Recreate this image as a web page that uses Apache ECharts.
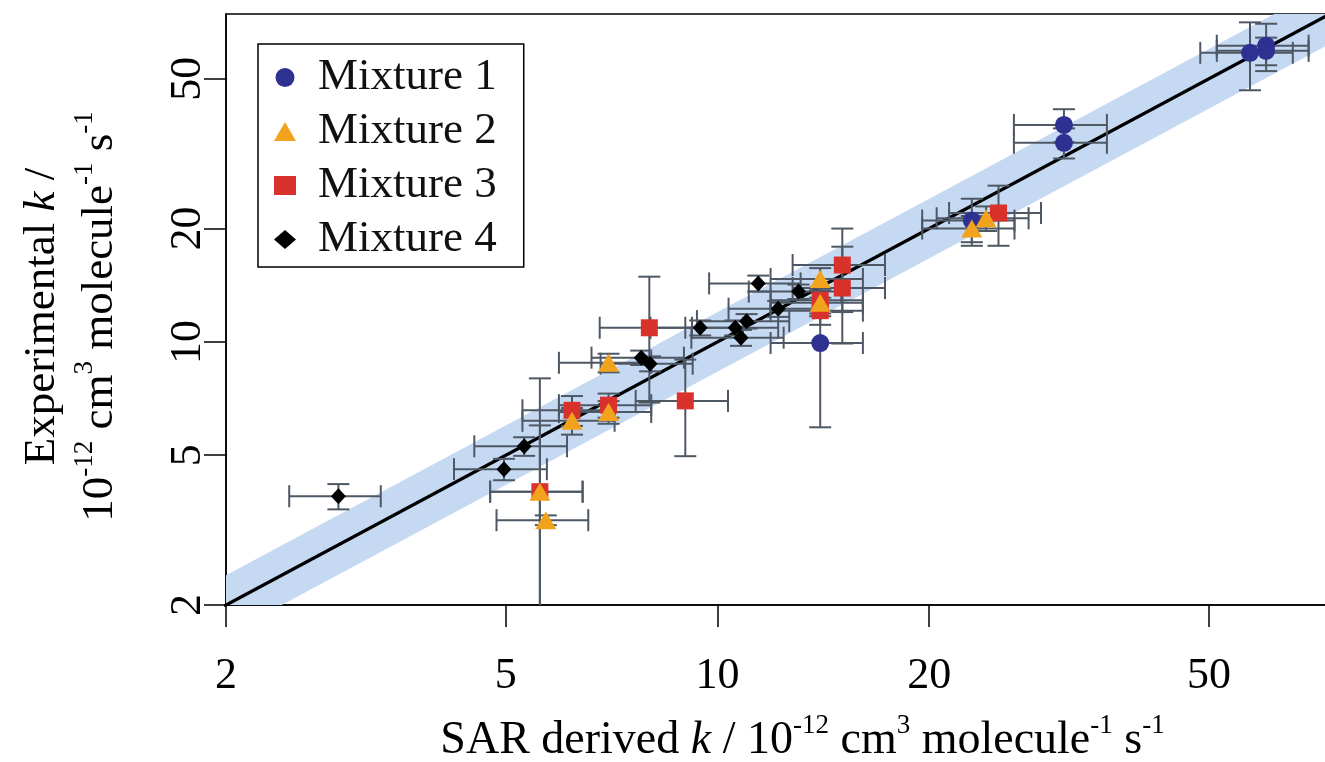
<!DOCTYPE html>
<html><head><meta charset="utf-8">
<script src="https://cdn.jsdelivr.net/npm/echarts@6/dist/echarts.min.js"></script>
<style>html,body{margin:0;padding:0;background:#fff}#c{width:1325px;height:762px}</style>
</head><body><div id="c"></div>
<script>
// ---------- data ----------
const tickValues = [2, 5, 10, 20, 50];
const xRange = [2, 73.6];
const yRange = [2, 74.3];
const seriesNames = ['Mixture 1', 'Mixture 2', 'Mixture 3', 'Mixture 4'];

// Mixture 1 (circles)
const m1X    = [57.2, 60.3, 60.3, 31.1, 31.1, 23.0, 14.0];
const m1Y    = [58.6, 61.2, 59.3, 37.7, 33.8, 21.0, 9.93];
const m1XErr = [8.6, 9.0, 9.0, 4.7, 4.7, 3.45, 2.1];
const m1YErr = [12.0, 8.8, 5.0, 3.8, 3.1, 3.0, 4.0];

// Mixture 2 (triangles)
const m2X    = [7.0, 6.21, 7.0, 5.59, 5.7, 14.0, 14.0, 23.0, 24.1];
const m2Y    = [8.8, 6.17, 6.51, 4.0, 3.36, 14.7, 12.7, 20.0, 21.3];
const m2XErr = [1.05, 0.93, 1.05, 0.84, 0.85, 2.1, 2.1, 3.45, 3.6];
const m2YErr = [0.5, 0.5, 0.45, 2.0, 0.1, 1.0, 1.0, 1.6, 1.6];

// Mixture 3 (squares)
const m3X    = [8.0, 9.0, 6.21, 7.0, 5.59, 15.05, 15.05, 14.0, 14.0, 25.1];
const m3Y    = [10.9, 6.97, 6.58, 6.79, 4.0, 16.0, 13.9, 12.9, 12.1, 22.0];
const m3XErr = [1.2, 1.35, 0.93, 1.05, 0.84, 2.26, 2.26, 2.1, 2.1, 3.75];
const m3YErr = [4.0, 2.0, 0.6, 0.5, 4.0, 4.0, 4.0, 1.0, 1.0, 4.0];

// Mixture 4 (diamonds)
const m4X    = [2.89, 4.97, 5.31, 7.79, 8.02, 9.45, 10.6, 11.0, 10.8, 11.43, 12.2, 13.04];
const m4Y    = [3.89, 4.59, 5.28, 9.08, 8.75, 10.9, 10.9, 11.35, 10.26, 14.3, 12.25, 13.6];
const m4XErr = [0.43, 0.75, 0.8, 1.17, 1.2, 1.42, 1.6, 1.65, 1.62, 1.7, 1.83, 1.96];
const m4YErr = [0.3, 0.3, 0.3, 0.4, 0.4, 0.5, 0.5, 0.5, 0.5, 0.7, 0.6, 0.6];

// 1:1 line and shaded band
const diagX = [1.5, 100];
const bandX = [1.5, 100];
const bandFactor = 1.2;

// ---------- styling ----------
const FONT = "'Liberation Serif','Times New Roman',serif";
const colors = ['#2e3192', '#f2a31d', '#d9312b', '#000000'];
const symbols = ['circle', 'triangle', 'rect', 'diamond'];
const symbolSizes = [18, [21, 18], 17, [15, 16]];
const errColor = '#4e5865';
const bandColor = '#c6d9f2';

const L = Math.log10;
const groups = [
  [m1X, m1Y, m1XErr, m1YErr],
  [m2X, m2Y, m2XErr, m2YErr],
  [m3X, m3Y, m3XErr, m3YErr],
  [m4X, m4Y, m4XErr, m4YErr]
];

function errRender(params, api) {
  const x = api.value(2), y = api.value(3), xe = api.value(4), ye = api.value(5);
  const cs = params.coordSys;
  const c = api.coord([L(x), L(y)]);
  const xl = api.coord([L(x - xe), L(y)])[0];
  const xh = api.coord([L(x + xe), L(y)])[0];
  const yh = api.coord([L(x), L(y + ye)])[1];
  const lowVal = y - ye;
  let yl, lowCap = true;
  if (lowVal <= yRange[0]) { yl = cs.y + cs.height; lowCap = false; }
  else { yl = api.coord([L(x), L(lowVal)])[1]; }
  const cap = 11;
  const st = () => ({ stroke: errColor, lineWidth: 2, fill: null });
  const ch = [
    { type: 'line', shape: { x1: xl, y1: c[1], x2: xh, y2: c[1] }, style: st() },
    { type: 'line', shape: { x1: xl, y1: c[1] - cap, x2: xl, y2: c[1] + cap }, style: st() },
    { type: 'line', shape: { x1: xh, y1: c[1] - cap, x2: xh, y2: c[1] + cap }, style: st() },
    { type: 'line', shape: { x1: c[0], y1: yh, x2: c[0], y2: yl }, style: st() },
    { type: 'line', shape: { x1: c[0] - cap, y1: yh, x2: c[0] + cap, y2: yh }, style: st() }
  ];
  if (lowCap) ch.push({ type: 'line', shape: { x1: c[0] - cap, y1: yl, x2: c[0] + cap, y2: yl }, style: st() });
  return { type: 'group', children: ch };
}

function bandRender(params, api) {
  const cs = params.coordSys;
  const pts = [
    api.coord([L(bandX[0]), L(bandX[0] * bandFactor)]),
    api.coord([L(bandX[1]), L(bandX[1] * bandFactor)]),
    api.coord([L(bandX[1]), L(bandX[1] / bandFactor)]),
    api.coord([L(bandX[0]), L(bandX[0] / bandFactor)])
  ];
  return {
    type: 'polygon', shape: { points: pts },
    style: { fill: bandColor, stroke: null },
    clipPath: { type: 'rect', shape: { x: cs.x, y: cs.y, width: cs.width, height: cs.height } }
  };
}

const series = [];
series.push({
  type: 'custom', name: 'band', z: 1, clip: true,
  data: [[L(bandX[0]), L(bandX[0])]], encode: { x: 0, y: 1 },
  renderItem: bandRender, silent: true
});
series.push({
  type: 'line', name: '1:1', z: 2, clip: true, symbol: 'none', silent: true,
  lineStyle: { color: '#000', width: 3.4 },
  data: diagX.map(v => [L(v), L(v)])
});
groups.forEach((g, k) => {
  const [xs, ys, xes, yes] = g;
  series.push({
    type: 'custom', name: 'err' + k, z: 3, clip: true, silent: true,
    encode: { x: 0, y: 1 },
    data: xs.map((v, i) => [L(v), L(ys[i]), v, ys[i], xes[i], yes[i]]),
    renderItem: errRender
  });
});
// draw order of markers: 1, 3, 2, 4
[0, 2, 1, 3].forEach(k => {
  const [xs, ys] = groups[k];
  series.push({
    type: 'scatter', name: seriesNames[k], z: 4,
    symbol: symbols[k], symbolSize: symbolSizes[k],
    itemStyle: { color: colors[k], opacity: 1 },
    data: xs.map((v, i) => [L(v), L(ys[i])])
  });
});

const richBase = (fs, lh, sfs) => ({
  i: { fontFamily: FONT, fontSize: fs, fontStyle: 'italic', color: '#000', lineHeight: lh },
  s: { fontFamily: FONT, fontSize: sfs, color: '#000', verticalAlign: 'top', lineHeight: 32 }
});

const tickLogs = tickValues.map(v => L(v));

const option = {
  animation: false,
  backgroundColor: '#fff',
  grid: {
    left: 226, top: 14, right: -2, bottom: 157, show: true,
    outerBoundsMode: 'none', containLabel: false,
    borderColor: '#000', borderWidth: 1.5, backgroundColor: 'transparent'
  },
  legend: {
    orient: 'vertical', left: 258, top: 44,
    padding: [11, 27, 5, 16],
    itemWidth: 22, itemHeight: 19, itemGap: 9,
    borderColor: '#000', borderWidth: 1.5, backgroundColor: '#fff',
    selectedMode: false,
    textStyle: { fontFamily: FONT, fontSize: 45, color: '#111', lineHeight: 44, padding: [0, 0, 0, 17] },
    data: seriesNames
  },
  xAxis: {
    type: 'value', min: L(xRange[0]), max: L(xRange[1]),
    splitLine: { show: false },
    axisLine: { onZero: false, lineStyle: { color: '#000', width: 1.5 } },
    axisTick: { customValues: tickLogs, length: 22, lineStyle: { color: '#000', width: 1.5 } },
    axisLabel: {
      customValues: tickLogs, margin: 49, fontFamily: FONT, fontSize: 44, color: '#000',
      formatter: v => String(Math.round(Math.pow(10, v)))
    },
    name: 'SAR derived {i|k} / 10{s|-12} cm{s|3} molecule{s|-1} s{s|-1}',
    nameLocation: 'middle', nameGap: 107,
    nameTextStyle: { fontFamily: FONT, fontSize: 46, color: '#000', lineHeight: 58, padding: [0, 0, 0, 52], rich: richBase(46, 58, 27) }
  },
  yAxis: {
    type: 'value', min: L(yRange[0]), max: L(yRange[1]),
    splitLine: { show: false },
    axisLine: { onZero: false, lineStyle: { color: '#000', width: 1.5 } },
    axisTick: { customValues: tickLogs, length: 22, lineStyle: { color: '#000', width: 1.5 } },
    axisLabel: {
      customValues: tickLogs, rotate: 90, margin: 16, fontFamily: FONT, fontSize: 44, color: '#000',
      formatter: v => String(Math.round(Math.pow(10, v)))
    },
    name: 'Experimental {i|k} /\n10{s|-12} cm{s|3} molecule{s|-1} s{s|-1}',
    nameLocation: 'middle', nameRotate: 90, nameGap: 97,
    nameTextStyle: { fontFamily: FONT, fontSize: 45, color: '#000', lineHeight: 58, align: 'center', padding: [0, 14, 0, 0], rich: richBase(45, 58, 27) }
  },
  series
};

const chart = echarts.init(document.getElementById('c'), null, { renderer: 'canvas' });
chart.setOption(option);
</script>
</body></html>
